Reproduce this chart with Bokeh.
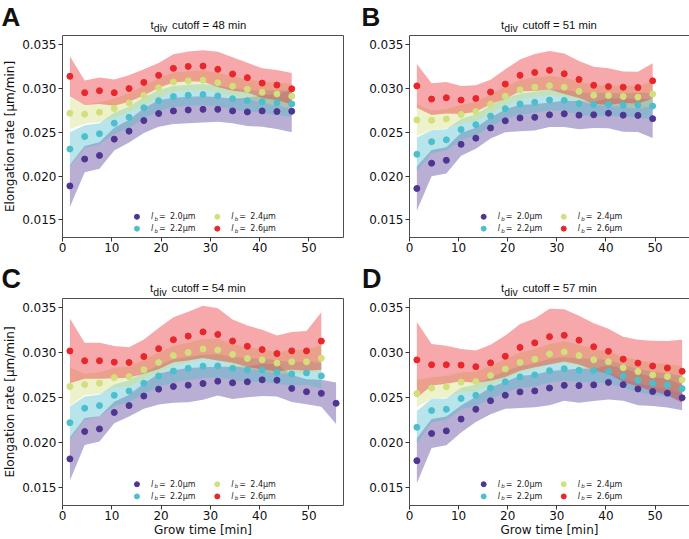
from bokeh.plotting import figure
from bokeh.layouts import column, row
from bokeh.models import Range1d, FixedTicker, PrintfTickFormatter, ColumnDataSource
from bokeh.core.properties import value
from bokeh.embed import file_html
from bokeh.resources import INLINE

# ---------------- data ----------------
time_A = [1.5, 4.5, 7.5, 10.5, 13.5, 16.5, 19.5, 22.5, 25.5, 28.5, 31.5, 34.5, 37.5, 40.5, 43.5, 46.5]
time_B = [1.5, 4.5, 7.5, 10.5, 13.5, 16.5, 19.5, 22.5, 25.5, 28.5, 31.5, 34.5, 37.5, 40.5, 43.5, 46.5, 49.5]
time_C = [1.5, 4.5, 7.5, 10.5, 13.5, 16.5, 19.5, 22.5, 25.5, 28.5, 31.5, 34.5, 37.5, 40.5, 43.5, 46.5, 49.5, 52.5]
time_C_long = [1.5, 4.5, 7.5, 10.5, 13.5, 16.5, 19.5, 22.5, 25.5, 28.5, 31.5, 34.5, 37.5, 40.5, 43.5, 46.5, 49.5, 52.5, 55.5]
time_D = [1.5, 4.5, 7.5, 10.5, 13.5, 16.5, 19.5, 22.5, 25.5, 28.5, 31.5, 34.5, 37.5, 40.5, 43.5, 46.5, 49.5, 52.5, 55.5]

# Panel A (cutoff 48 min)
A_20_mean = [0.01887, 0.02193, 0.02234, 0.0242, 0.02511, 0.02631, 0.02712, 0.02741, 0.02752, 0.02759, 0.02759, 0.02741, 0.0273, 0.02741, 0.02734, 0.02737]
A_20_sd = [0.0024, 0.0015, 0.0015, 0.0013, 0.0013, 0.0014, 0.0015, 0.0015, 0.0015, 0.0015, 0.0014, 0.0014, 0.0016, 0.0018, 0.0020, 0.0024]
A_22_mean = [0.02307, 0.02449, 0.02482, 0.02602, 0.02668, 0.02777, 0.02858, 0.02905, 0.0292, 0.02927, 0.02912, 0.0288, 0.02858, 0.02847, 0.02836, 0.02821]
A_22_sd = [0.0019, 0.0013, 0.0012, 0.0012, 0.0012, 0.0012, 0.0012, 0.0012, 0.0012, 0.0012, 0.0012, 0.0012, 0.0012, 0.0013, 0.0014, 0.0015]
A_24_mean = [0.02715, 0.02704, 0.02726, 0.0277, 0.02832, 0.02916, 0.03004, 0.0307, 0.03084, 0.03091, 0.03062, 0.03022, 0.02989, 0.02953, 0.02934, 0.02909]
A_24_sd = [0.0018, 0.0011, 0.0011, 0.0011, 0.0011, 0.0011, 0.0011, 0.0011, 0.0011, 0.0011, 0.0011, 0.0011, 0.0011, 0.0012, 0.0013, 0.0014]
A_26_mean = [0.03135, 0.02949, 0.02971, 0.02949, 0.02996, 0.03066, 0.03146, 0.03226, 0.03248, 0.03252, 0.03215, 0.03161, 0.0312, 0.03058, 0.03036, 0.02993]
A_26_sd = [0.0023, 0.0014, 0.0015, 0.0015, 0.0015, 0.0015, 0.0014, 0.0016, 0.0017, 0.0018, 0.0020, 0.0019, 0.0017, 0.0017, 0.0017, 0.0018]

# Panel B (cutoff 51 min)
B_20_mean = [0.01858, 0.02146, 0.02179, 0.02361, 0.02431, 0.02547, 0.02628, 0.02661, 0.02668, 0.02697, 0.02708, 0.02693, 0.02697, 0.02715, 0.02693, 0.0269, 0.02653]
B_20_sd = [0.0025, 0.0015, 0.0015, 0.0013, 0.0012, 0.0012, 0.0013, 0.0015, 0.0015, 0.0014, 0.0015, 0.0016, 0.0015, 0.0017, 0.0019, 0.0019, 0.0022]
B_22_mean = [0.02248, 0.02391, 0.02412, 0.02529, 0.02584, 0.02682, 0.02766, 0.02821, 0.02839, 0.02865, 0.02861, 0.02825, 0.02814, 0.02814, 0.02807, 0.02807, 0.02796]
B_22_sd = [0.0019, 0.0013, 0.0012, 0.0012, 0.0012, 0.0012, 0.0012, 0.0012, 0.0012, 0.0012, 0.0012, 0.0013, 0.0013, 0.0013, 0.0013, 0.0014, 0.0015]
B_24_mean = [0.02639, 0.02635, 0.0265, 0.02701, 0.02734, 0.02818, 0.02909, 0.02982, 0.03011, 0.03029, 0.03011, 0.02964, 0.0292, 0.02916, 0.02905, 0.02898, 0.02934]
B_24_sd = [0.0018, 0.0011, 0.0011, 0.0011, 0.0011, 0.0011, 0.0011, 0.0011, 0.0011, 0.0011, 0.0011, 0.0011, 0.0011, 0.0012, 0.0012, 0.0013, 0.0014]
B_26_mean = [0.03026, 0.02876, 0.02891, 0.02865, 0.02883, 0.02956, 0.03047, 0.03146, 0.03179, 0.03204, 0.03164, 0.03099, 0.03033, 0.03018, 0.03011, 0.03007, 0.03084]
B_26_sd = [0.0025, 0.0018, 0.0018, 0.0016, 0.0015, 0.0014, 0.0017, 0.0018, 0.0021, 0.0022, 0.0023, 0.0021, 0.0021, 0.0021, 0.0018, 0.0018, 0.0020]

# Panel C (cutoff 54 min)
C_20_mean = [0.01818, 0.02122, 0.02151, 0.02334, 0.0241, 0.02516, 0.02593, 0.02622, 0.02637, 0.02655, 0.02681, 0.02663, 0.02674, 0.02696, 0.02692, 0.02601, 0.02564, 0.02546, 0.02436]
C_20_sd = [0.0024, 0.0015, 0.0014, 0.0012, 0.0012, 0.0014, 0.0017, 0.0018, 0.0019, 0.0018, 0.0016, 0.0018, 0.0017, 0.0018, 0.0018, 0.0015, 0.0014, 0.0015, 0.0023]
C_22_mean = [0.0222, 0.02381, 0.0241, 0.02524, 0.02571, 0.02659, 0.02739, 0.02794, 0.02824, 0.02848, 0.02851, 0.02824, 0.02806, 0.02806, 0.0278, 0.02762, 0.02773, 0.0274]
C_22_sd = [0.0018, 0.0013, 0.0012, 0.0012, 0.0012, 0.0012, 0.0012, 0.0013, 0.0013, 0.0013, 0.0013, 0.0013, 0.0013, 0.0013, 0.0013, 0.0013, 0.0013, 0.0014]
C_24_mean = [0.02622, 0.02644, 0.02659, 0.02721, 0.02732, 0.02809, 0.02889, 0.02966, 0.02999, 0.03039, 0.03027, 0.02978, 0.02934, 0.02919, 0.02882, 0.02897, 0.02897, 0.02937]
C_24_sd = [0.0021, 0.0012, 0.0012, 0.0011, 0.0011, 0.0011, 0.0011, 0.0011, 0.0011, 0.0011, 0.0012, 0.0012, 0.0012, 0.0012, 0.0012, 0.0013, 0.0013, 0.0015]
C_26_mean = [0.03017, 0.02908, 0.02908, 0.02893, 0.02889, 0.02955, 0.03043, 0.03142, 0.03182, 0.03229, 0.03201, 0.03127, 0.03069, 0.03032, 0.02988, 0.03018, 0.03018, 0.03127]
C_26_sd = [0.0036, 0.0020, 0.0020, 0.0018, 0.0017, 0.0019, 0.0023, 0.0025, 0.0027, 0.0029, 0.0029, 0.0024, 0.0023, 0.0022, 0.0020, 0.0021, 0.0022, 0.0032]

# Panel D (cutoff 57 min)
D_20_mean = [0.01798, 0.021, 0.02129, 0.0226, 0.02369, 0.02464, 0.02525, 0.02562, 0.02573, 0.02605, 0.02635, 0.02632, 0.0264, 0.02668, 0.02643, 0.02595, 0.02566, 0.02548, 0.02497]
D_20_sd = [0.0025, 0.0016, 0.0016, 0.0015, 0.0014, 0.0015, 0.0015, 0.0018, 0.0018, 0.0019, 0.0017, 0.0019, 0.0018, 0.0019, 0.0018, 0.0018, 0.0016, 0.0016, 0.0014]
D_22_mean = [0.02169, 0.02355, 0.02369, 0.02489, 0.02525, 0.02605, 0.02675, 0.02729, 0.02751, 0.02798, 0.0282, 0.02802, 0.028, 0.02788, 0.02737, 0.0269, 0.02657, 0.02639, 0.02599]
D_22_sd = [0.0018, 0.0013, 0.0012, 0.0012, 0.0012, 0.0012, 0.0012, 0.0012, 0.0013, 0.0013, 0.0013, 0.0013, 0.0013, 0.0013, 0.0013, 0.0013, 0.0013, 0.0013, 0.0014]
D_24_mean = [0.02544, 0.02605, 0.0262, 0.02671, 0.02678, 0.02744, 0.02816, 0.02889, 0.02925, 0.02984, 0.03006, 0.02966, 0.02919, 0.02897, 0.02831, 0.02788, 0.02751, 0.02733, 0.02697]
D_24_sd = [0.0015, 0.0012, 0.0012, 0.0011, 0.0011, 0.0011, 0.0011, 0.0011, 0.0011, 0.0011, 0.0012, 0.0012, 0.0012, 0.0012, 0.0012, 0.0013, 0.0013, 0.0014, 0.0015]
D_26_mean = [0.02918, 0.02864, 0.02864, 0.0286, 0.02842, 0.02885, 0.02958, 0.03056, 0.03107, 0.03176, 0.03191, 0.03137, 0.03064, 0.03013, 0.02926, 0.02882, 0.0285, 0.02828, 0.02791]
D_26_sd = [0.0042, 0.0023, 0.0021, 0.0018, 0.0018, 0.0020, 0.0023, 0.0026, 0.0027, 0.0031, 0.0029, 0.0027, 0.0026, 0.0025, 0.0025, 0.0026, 0.0028, 0.0030, 0.0035]

cutoffs = ["48", "51", "54", "57"]
panel_letters = ["A", "B", "C", "D"]
birth_lengths = ["2.0μm", "2.2μm", "2.4μm", "2.6μm"]
series_colors = ["#4F3591", "#4DBFCC", "#D3DF7C", "#E8262B"]
x_ticks = [0, 10, 20, 30, 40, 50]
y_ticks = [0.015, 0.020, 0.025, 0.030, 0.035]

# legend anchor positions (data coords), order: 2.0, 2.2, 2.4, 2.6
legend_x = [15.1, 15.1, 31.4, 31.4]
legend_y = [0.01536, 0.01401, 0.01536, 0.01401]

panel_series = [
    [(time_A, A_20_mean, A_20_sd), (time_A, A_22_mean, A_22_sd), (time_A, A_24_mean, A_24_sd), (time_A, A_26_mean, A_26_sd)],
    [(time_B, B_20_mean, B_20_sd), (time_B, B_22_mean, B_22_sd), (time_B, B_24_mean, B_24_sd), (time_B, B_26_mean, B_26_sd)],
    [(time_C_long, C_20_mean, C_20_sd), (time_C, C_22_mean, C_22_sd), (time_C, C_24_mean, C_24_sd), (time_C, C_26_mean, C_26_sd)],
    [(time_D, D_20_mean, D_20_sd), (time_D, D_22_mean, D_22_sd), (time_D, D_24_mean, D_24_sd), (time_D, D_26_mean, D_26_sd)],
]

# ---------------- layout / style ----------------
FONT = "DejaVu Sans"
SANS = "Liberation Sans"
Y0, Y1 = 0.013, 0.036
X0, X1 = 0, 57
TOTAL_W = 687

geoms = [
    dict(fw=281, fh=202, l=58, r=20, t=1, b=25, ylab=True, xlab=False),
    dict(fw=280, fh=202, l=46, r=2, t=1, b=25, ylab=False, xlab=False),
    dict(fw=281, fh=207, l=58, r=20, t=1, b=30, ylab=True, xlab=True),
    dict(fw=280, fh=207, l=46, r=2, t=1, b=30, ylab=False, xlab=True),
]


def build(i):
    g = geoms[i]
    p = figure(frame_width=g["fw"], frame_height=g["fh"],
               x_range=Range1d(X0, X1), y_range=Range1d(Y0, Y1),
               output_backend="svg", toolbar_location=None,
               min_border_left=g["l"], min_border_right=g["r"],
               min_border_top=g["t"], min_border_bottom=g["b"])
    p.grid.visible = False
    p.background_fill_color = "white"
    p.border_fill_color = "white"
    p.outline_line_color = "#4d4d4d"
    p.outline_line_width = 1

    for ax in (p.xaxis[0], p.yaxis[0]):
        ax.axis_line_color = None
        ax.major_tick_out = 4
        ax.major_tick_in = 0
        ax.minor_tick_out = 0
        ax.minor_tick_in = 0
        ax.major_tick_line_color = "#333333"
        ax.major_label_text_font = FONT
        ax.major_label_text_font_size = "12px"
        ax.major_label_text_color = "#111111"
        ax.major_label_standoff = 2
        ax.axis_label_text_font = FONT
        ax.axis_label_text_font_size = "12px"
        ax.axis_label_text_font_style = "normal"
        ax.axis_label_text_color = "#111111"
        ax.axis_label_standoff = 2
    p.xaxis.major_label_standoff = 1
    p.xaxis.axis_label_standoff = 0
    p.xaxis.ticker = FixedTicker(ticks=x_ticks)
    p.yaxis.ticker = FixedTicker(ticks=y_ticks)
    p.yaxis.formatter = PrintfTickFormatter(format="%.3f")
    if g["ylab"]:
        p.yaxis.axis_label = "Elongation rate [μm/min]"
    if g["xlab"]:
        p.xaxis.axis_label = "Grow time [min]"

    # shaded bands (mean +/- sd)
    for (t, m, s), c in zip(panel_series[i], series_colors):
        lo = [a - b for a, b in zip(m, s)]
        hi = [a + b for a, b in zip(m, s)]
        p.varea(x=t, y1=lo, y2=hi, fill_color=c, fill_alpha=0.4)
    # mean points
    for (t, m, s), c in zip(panel_series[i], series_colors):
        p.scatter(x=t, y=m, size=6, fill_color=c, line_color=c)

    # legend (built from glyphs)
    src = ColumnDataSource(dict(x=legend_x, y=legend_y, c=series_colors, lab=birth_lengths,
                                l=["l"] * 4, b=["b"] * 4, eq=["="] * 4))
    p.scatter("x", "y", source=src, size=5, fill_color="c", line_color="c")
    p.text("x", "y", text="l", source=src, x_offset=14, text_font=value(FONT),
           text_font_style="italic", text_font_size=value("8px"), text_baseline="middle",
           text_color="#222222")
    p.text("x", "y", text="b", source=src, x_offset=17.5, y_offset=2, text_font=value(FONT),
           text_font_style="italic", text_font_size=value("5.5px"), text_baseline="middle",
           text_color="#222222")
    p.text("x", "y", text="eq", source=src, x_offset=22, text_font=value(FONT),
           text_font_size=value("8px"), text_baseline="middle", text_color="#222222")
    p.text("x", "y", text="lab", source=src, x_offset=33, text_font=value(FONT),
           text_font_size=value("8px"), text_baseline="middle", text_color="#222222")
    return p


def header(y_top, height, letters, letter_x, letter_top, letter_size, title_x, title_base, sub_base, cut):
    """A strip above a row of panels holding the panel letters and titles (pixel coordinates)."""
    s = figure(frame_width=TOTAL_W, frame_height=height,
               x_range=Range1d(0, TOTAL_W), y_range=Range1d(y_top + height, y_top),
               x_axis_type=None, y_axis_type=None, output_backend="svg", toolbar_location=None,
               min_border_left=0, min_border_right=0, min_border_top=0, min_border_bottom=0)
    s.outline_line_color = None
    s.background_fill_color = "white"
    s.border_fill_color = "white"
    s.text(x=letter_x, y=[letter_top] * 2, text=letters, text_font=value(SANS),
           text_font_style="bold", text_font_size=value(letter_size), text_baseline="top",
           text_color="#111111")
    s.text(x=title_x, y=[title_base] * 2, text=["t", "t"], text_font=value(SANS),
           text_font_size=value("11.3px"), text_baseline="alphabetic", text_color="#111111")
    s.text(x=[v + 3.3 for v in title_x], y=[sub_base] * 2, text=["div", "div"], text_font=value(SANS),
           text_font_size=value("10.5px"), text_baseline="alphabetic", text_color="#111111")
    s.text(x=[v + 21.5 for v in title_x], y=[title_base] * 2,
           text=["cutoff = %s min" % c for c in cut], text_font=value(SANS),
           text_font_size=value("11.3px"), text_baseline="alphabetic", text_color="#111111")
    return s


figs = [build(i) for i in range(4)]
head1 = header(0, 34, panel_letters[:2], [1, 361], 1, "26px", [150, 500.5], 24.6, 27.9, cutoffs[:2])
head2 = header(262, 35, panel_letters[2:], [1, 361.5], 263, "27px", [149.5, 500.5], 287.3, 291.0, cutoffs[2:])

layout = column(head1, row(figs[0], figs[1]), head2, row(figs[2], figs[3]))

open("out.html", "w").write(file_html(layout, INLINE))
